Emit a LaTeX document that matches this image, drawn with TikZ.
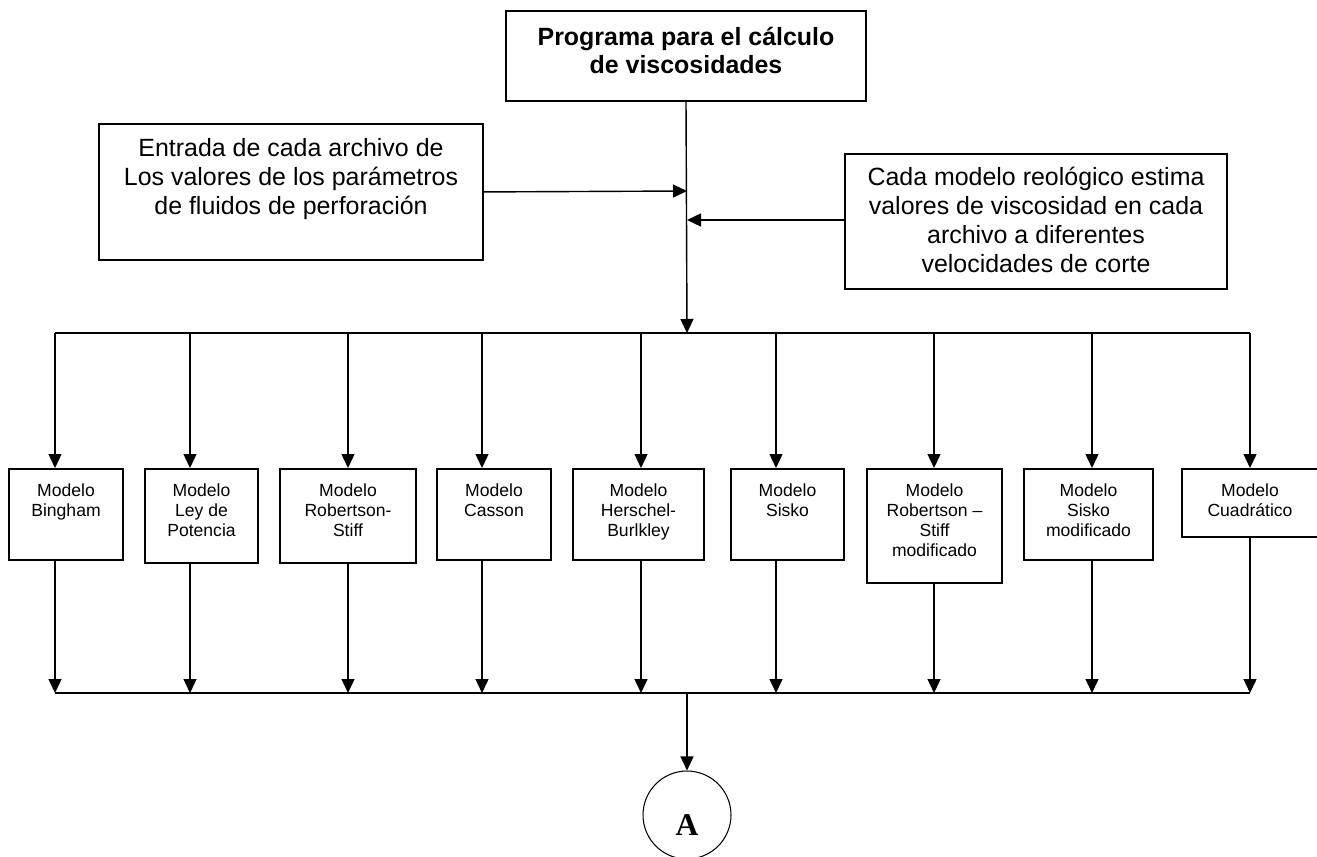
\documentclass[tikz,border=0pt]{standalone}
\usepackage{fontspec}
\setmainfont{Liberation Sans}
\newfontfamily\circlefont{Liberation Serif}
\usetikzlibrary{arrows.meta,positioning}
\tikzset{
  box/.style={draw, line width=1.1pt, rectangle, inner sep=0pt, anchor=north},
  bigtxt/.style={align=center, inner sep=0pt, font=\fontsize{14.2}{16.4}\selectfont},
  smalltxt/.style={align=center, inner sep=0pt, font=\fontsize{10}{11.4}\selectfont},
  feed/.style={-{Triangle[length=0.28cm,width=0.26cm]}, line width=0.8pt}
}
\begin{document}
\begin{tikzpicture}[x=0.02cm, y=-0.02cm]
  \useasboundingbox (0,0) rectangle (1317,857);
  % upper boxes
  \node[box, minimum width=7.2cm, minimum height=1.8cm] (prog) at (686,10) {};
  \node[bigtxt, font=\fontsize{14.2}{16.4}\selectfont\bfseries, below=0.33cm of prog.north] (progt)
    {Programa para el cálculo\\de viscosidades};
  \node[box, minimum width=7.68cm, minimum height=2.72cm] (entrada) at (291,123) {};
  \node[bigtxt, below=0.3cm of entrada.north] (entradat)
    {Entrada de cada archivo de\\Los valores de los parámetros\\de fluidos de perforación};
  \node[box, minimum width=7.64cm, minimum height=2.7cm] (estima) at (1036,153) {};
  \node[bigtxt, below=0.28cm of estima.north] (estimat)
    {Cada modelo reológico estima\\valores de viscosidad en cada\\archivo a diferentes\\velocidades de corte};
  % model boxes
  \node[box, minimum width=2.28cm, minimum height=1.82cm] (m1) at (66,468) {};
  \node[box, minimum width=2.26cm, minimum height=1.88cm] (m2) at (201.5,468) {};
  \node[box, minimum width=2.72cm, minimum height=1.88cm] (m3) at (348,468) {};
  \node[box, minimum width=2.28cm, minimum height=1.82cm] (m4) at (494,468) {};
  \node[box, minimum width=2.62cm, minimum height=1.82cm] (m5) at (638.5,468) {};
  \node[box, minimum width=2.26cm, minimum height=1.82cm] (m6) at (787.5,468) {};
  \node[box, minimum width=2.7cm, minimum height=2.28cm] (m7) at (934.5,468) {};
  \node[box, minimum width=2.58cm, minimum height=1.82cm] (m8) at (1088.5,468) {};
  \node[box, minimum width=2.72cm, minimum height=1.36cm] (m9) at (1250,468) {};
  \node[smalltxt, below=0.3cm of m1.north] (m1t) {Modelo\\Bingham};
  \node[smalltxt, below=0.3cm of m2.north] (m2t) {Modelo\\Ley de\\Potencia};
  \node[smalltxt, below=0.3cm of m3.north] (m3t) {Modelo\\Robertson-\\Stiff};
  \node[smalltxt, below=0.3cm of m4.north] (m4t) {Modelo\\Casson};
  \node[smalltxt, below=0.3cm of m5.north] (m5t) {Modelo\\Herschel-\\Burlkley};
  \node[smalltxt, below=0.3cm of m6.north] (m6t) {Modelo\\Sisko};
  \node[smalltxt, below=0.3cm of m7.north] (m7t) {Modelo\\Robertson --\\Stiff\\modificado};
  \node[smalltxt, below=0.3cm of m8.north] (m8t) {Modelo\\Sisko\\modificado};
  \node[smalltxt, below=0.3cm of m9.north] (m9t) {Modelo\\Cuadrático};
  % connector
  \node[draw, circle, line width=0.6pt, minimum size=1.76cm, inner sep=0pt, text height=0.8cm,
    font=\fontsize{18}{20}\selectfont\circlefont\bfseries] (A) at (687,815) {A};
  % bus points
  \coordinate (inL) at (687,191);
  \coordinate (inR) at (687,220);
  \coordinate (s) at (687,333);
  \coordinate (j) at (687,693);
  \coordinate (t1) at (55,333);   \coordinate (b1) at (55,693);
  \coordinate (t2) at (190,333);  \coordinate (b2) at (190,693);
  \coordinate (t3) at (348,333);  \coordinate (b3) at (348,693);
  \coordinate (t4) at (482,333);  \coordinate (b4) at (482,693);
  \coordinate (t5) at (641,333);  \coordinate (b5) at (641,693);
  \coordinate (t6) at (776,333);  \coordinate (b6) at (776,693);
  \coordinate (t7) at (934,333);  \coordinate (b7) at (934,693);
  \coordinate (t8) at (1092,333); \coordinate (b8) at (1092,693);
  \coordinate (t9) at (1250,333); \coordinate (b9) at (1250,693);
  % upper connectors
  \draw[feed] (prog.south) -- (s);
  \draw[feed] (entrada.east) -- (inL);
  \draw[feed] (estima.west |- inR) -- (inR);
  \draw[line width=0.9pt] (t1) -- (t9);
  \draw[feed] (t1) -- (t1 |- m1.north);
  \draw[feed] (t2) -- (t2 |- m2.north);
  \draw[feed] (t3) -- (t3 |- m3.north);
  \draw[feed] (t4) -- (t4 |- m4.north);
  \draw[feed] (t5) -- (t5 |- m5.north);
  \draw[feed] (t6) -- (t6 |- m6.north);
  \draw[feed] (t7) -- (t7 |- m7.north);
  \draw[feed] (t8) -- (t8 |- m8.north);
  \draw[feed] (t9) -- (t9 |- m9.north);
  % lower connectors
  \draw[feed] (m1.south -| b1) -- (b1);
  \draw[feed] (m2.south -| b2) -- (b2);
  \draw[feed] (m3.south -| b3) -- (b3);
  \draw[feed] (m4.south -| b4) -- (b4);
  \draw[feed] (m5.south -| b5) -- (b5);
  \draw[feed] (m6.south -| b6) -- (b6);
  \draw[feed] (m7.south -| b7) -- (b7);
  \draw[feed] (m8.south -| b8) -- (b8);
  \draw[feed] (m9.south -| b9) -- (b9);
  \draw[line width=0.9pt] (b1) -- (b9);
  \draw[feed] (j) -- (A.north);
\end{tikzpicture}
\end{document}
